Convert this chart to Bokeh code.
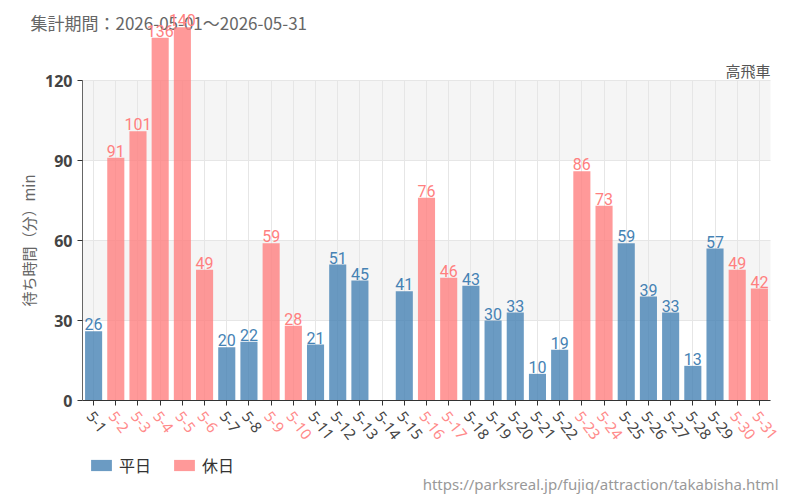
from bokeh.plotting import figure
from bokeh.models import (ColumnDataSource, Range1d, FixedTicker, BoxAnnotation,
                          LabelSet, Label, Legend, LegendItem)
from bokeh.core.properties import value
from bokeh.embed import file_html
from bokeh.resources import INLINE

# daily average wait (minutes) for 高飛車, May 2026; None = no data
days = ["5-1", "5-2", "5-3", "5-4", "5-5", "5-6", "5-7", "5-8", "5-9", "5-10",
        "5-11", "5-12", "5-13", "5-14", "5-15", "5-16", "5-17", "5-18", "5-19", "5-20",
        "5-21", "5-22", "5-23", "5-24", "5-25", "5-26", "5-27", "5-28", "5-29", "5-30", "5-31"]
waits = [26, 91, 101, 136, 140, 49, 20, 22, 59, 28,
         21, 51, 45, None, 41, 76, 46, 43, 30, 33,
         10, 19, 86, 73, 59, 39, 33, 13, 57, 49, 42]
holiday = [False, True, True, True, True, True, False, False, True, True,
           False, False, False, False, False, True, True, False, False, False,
           False, False, True, True, False, False, False, False, False, True, True]
y_ticks = [0, 30, 60, 90, 120]

BLUE = "#4682b4"
RED = "#ff7f7f"
FONT = "Noto Sans CJK JP"
NUM_FONT = "Roboto"

W, H = 800, 500
LEFT, RIGHT, BOTTOM = 82, 30, 100          # plot-area margins in px
n = len(days)
cw = (W - LEFT - RIGHT) / n                 # px per category
px_per_min = (H - BOTTOM) / 150.0

idx = list(range(n))
wd = {"x": [], "wait": [], "label": []}
hd = {"x": [], "wait": [], "label": []}
for i, w, h in zip(idx, waits, holiday):
    if w is None:
        continue
    tgt = hd if h else wd
    tgt["x"].append(i)
    tgt["wait"].append(w)
    tgt["label"].append(str(w))
src_w = ColumnDataSource(wd)
src_h = ColumnDataSource(hd)

# the frame spans the whole canvas; axes are pinned inside it
p = figure(width=W, height=H, output_backend="svg", toolbar_location=None,
           x_range=Range1d(-0.5 - LEFT / cw, n - 0.5 + RIGHT / cw),
           y_range=Range1d(-BOTTOM / px_per_min, 150),
           min_border=0)
p.outline_line_color = None
p.background_fill_color = "white"

# alternating grey bands between y ticks
for i in range(1, len(y_ticks) - 1, 2):
    p.add_layout(BoxAnnotation(bottom=y_ticks[i], top=y_ticks[i + 1], left=-0.5, right=n - 0.5,
                               fill_color="#f5f5f5", fill_alpha=1.0, line_color=None,
                               level="image"))

# grid
p.ygrid.ticker = FixedTicker(ticks=y_ticks)
p.ygrid.grid_line_color = "#e6e6e6"
p.ygrid.cross_bounds = (-0.5, n - 0.5)
p.xgrid.ticker = FixedTicker(ticks=idx)
p.xgrid.grid_line_color = "#e6e6e6"
p.xgrid.cross_bounds = (0, 120)

# axes
p.yaxis.fixed_location = -0.5
p.yaxis.ticker = FixedTicker(ticks=y_ticks)
p.yaxis.bounds = (0, 120)
p.yaxis.axis_line_color = "#666"
p.yaxis.major_tick_line_color = "#333"
p.yaxis.major_tick_out = 5
p.yaxis.major_tick_in = 0
p.yaxis.minor_tick_line_color = None
p.yaxis.major_label_text_font = "Noto Sans"
p.yaxis.major_label_text_font_style = "bold"
p.yaxis.major_label_text_font_size = "16px"
p.yaxis.major_label_text_color = "#444"
p.yaxis.axis_label = "待ち時間（分）min"
p.yaxis.axis_label_text_font = FONT
p.yaxis.axis_label_text_font_style = "normal"
p.yaxis.axis_label_text_font_size = "15px"
p.yaxis.axis_label_text_color = "#666"
p.yaxis.axis_label_standoff = 3

p.xaxis.fixed_location = 0
p.xaxis.ticker = FixedTicker(ticks=idx)
p.xaxis.bounds = (-0.5, n - 0.5)
p.xaxis.axis_line_color = "#333"
p.xaxis.major_tick_line_color = "#333"
p.xaxis.major_tick_out = 5
p.xaxis.major_tick_in = 0
p.xaxis.minor_tick_line_color = None
p.xaxis.major_label_text_alpha = 0

# bars
r_w = p.vbar(x="x", top="wait", width=0.77, source=src_w,
             fill_color=BLUE, fill_alpha=0.8, line_color=None)
r_h = p.vbar(x="x", top="wait", width=0.77, source=src_h,
             fill_color=RED, fill_alpha=0.8, line_color=None)

# value labels
for src, col in ((src_w, BLUE), (src_h, RED)):
    p.add_layout(LabelSet(x="x", y="wait", text="label", source=src,
                          text_align="center", text_baseline="bottom", y_offset=1,
                          text_font=value(NUM_FONT), text_font_size="16px",
                          text_color=col))

# category labels, coloured by day type
tick_src = ColumnDataSource(dict(x=idx, day=days, color=["#ff8a8a" if h else "#444" for h in holiday]))
p.add_layout(LabelSet(x="x", y=0, text="day", source=tick_src, angle=-52, angle_units="deg",
                      text_align="left", text_baseline="middle", x_offset=-4, y_offset=-13,
                      text_font=value("Noto Sans"), text_font_size="15px", text_color="color"))

p.add_layout(Label(x=30, y=H - 22, x_units="screen", y_units="screen", level="underlay",
                   text="集計期間：2026-05-01～2026-05-31", text_baseline="middle",
                   text_font=FONT, text_font_size="17px", text_color="#666"))
p.add_layout(Label(x=W - RIGHT, y=H - 70, x_units="screen", y_units="screen",
                   text="高飛車", text_align="right", text_baseline="middle",
                   text_font=FONT, text_font_size="15px", text_color="#555"))
p.add_layout(Label(x=778, y=H - 483, x_units="screen", y_units="screen",
                   text="https://parksreal.jp/fujiq/attraction/takabisha.html",
                   text_align="right", text_baseline="middle",
                   text_font="Noto Sans", text_font_size="15px", text_color="#999"))

legend = Legend(items=[LegendItem(label="平日", renderers=[r_w]),
                       LegendItem(label="休日", renderers=[r_h])],
                orientation="horizontal", location=(88, H - 477),
                padding=0, margin=0,
                glyph_width=26, glyph_height=14, label_standoff=5, spacing=20,
                label_text_font=FONT, label_text_font_size="16px", label_text_color="#333",
                border_line_color=None, background_fill_alpha=0)
p.add_layout(legend)

open("out.html", "w").write(file_html(p, INLINE))
